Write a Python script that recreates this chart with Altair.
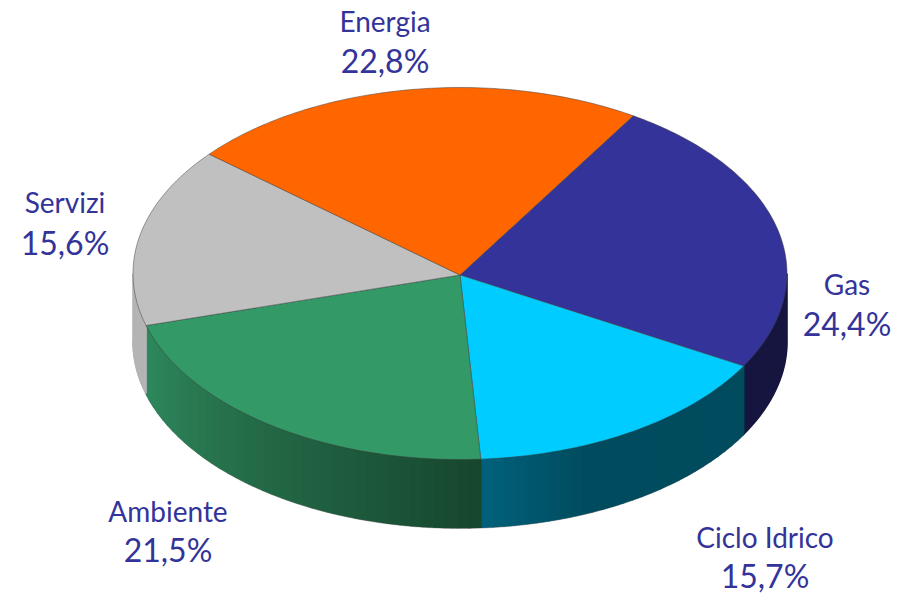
import math
import altair as alt

# --- data -------------------------------------------------------------
names = ["Gas", "Ciclo Idrico", "Ambiente", "Servizi", "Energia"]
shares = [24.4, 15.7, 21.5, 15.6, 22.8]
shares_txt = ["24,4%", "15,7%", "21,5%", "15,6%", "22,8%"]
top_colors = ["#333399", "#00CCFF", "#339966", "#C0C0C0", "#FF6600"]
wall_from = ["#15153F", "#00627C", "#2F8A5E", "#B4B4B4", "#909090"]
wall_to = ["#15153F", "#004C5E", "#17472E", "#A8A8A8", "#909090"]

# --- layout -----------------------------------------------------------
W, H = 885, 584
CX, CY, RX, RY, DEPTH = 452, 265.5, 327, 186, 68
APEX = (452, 267)
START = 32.0
label_x = [839, 757, 160, 57, 377]
label_y1 = [279, 532, 506, 197, 16]
label_y2 = [318, 570, 544, 237, 55]
LABEL_COLOR = "#333399"
FONT = "Lato"


def rim(theta, dy=0.0):
    t = math.radians(theta)
    return [CX + RX * math.sin(t), CY - RY * math.cos(t) + dy]


def feature(ring, **props):
    return {"type": "Feature", "properties": props,
            "geometry": {"type": "Polygon", "coordinates": [ring]}}


def hex_mix(a, b, f):
    ca = [int(a[i:i + 2], 16) for i in (1, 3, 5)]
    cb = [int(b[i:i + 2], 16) for i in (1, 3, 5)]
    return "#%02x%02x%02x" % tuple(round(p + (q - p) * f) for p, q in zip(ca, cb))


edges = [START]
for s in shares:
    edges.append(edges[-1] + s * 3.6)

tops, walls = [], []
for i, (a, b) in enumerate(zip(edges[:-1], edges[1:])):
    n = max(2, int(b - a))
    arc = [rim(a + (b - a) * k / n) for k in range(n + 1)]
    tops.append(feature([APEX] + arc + [APEX], c=top_colors[i]))
    lo, hi = max(a, 90), min(b, 270)
    if hi > lo:
        # flat walls need one strip, shaded walls get one strip per few degrees
        m = max(1, int((hi - lo) / 2)) if i in (1, 2) else 1
        for k in range(m):
            t0 = lo + (hi - lo) * k / m
            t1 = lo + (hi - lo) * (k + 1) / m
            if i == 1:
                col = hex_mix(wall_from[i], wall_to[i], min(1, (hi - t0) / (0.35 * (hi - lo))))
            elif i == 2:
                col = hex_mix(wall_to[i], wall_from[i], (t0 - lo) / (hi - lo))
            else:
                col = wall_from[i]
            steps = max(1, int(t1 - t0))
            upper = [rim(t0 + (t1 - t0) * j / steps) for j in range(steps + 1)]
            lower = [rim(t0 + (t1 - t0) * j / steps, DEPTH) for j in range(steps, -1, -1)]
            walls.append(feature(upper + lower + [upper[0]], c=col))

shadow = feature(
    [rim(t, DEPTH + 1) for t in range(90, 271, 2)]
    + [rim(t, DEPTH - 2) for t in range(270, 89, -2)]
    + [rim(90, DEPTH + 1)], c="#8A8A8A")

proj = alt.Projection(type="identity", scale=1, translate=[0, 0])
size = dict(width=W, height=H)

wall_layer = alt.Chart(alt.Data(values=walls)).mark_geoshape(
    strokeWidth=1.6).encode(
    fill=alt.Fill("properties.c:N", scale=None),
    stroke=alt.Stroke("properties.c:N", scale=None),
).project(**proj.to_dict()).properties(**size)

shadow_layer = alt.Chart(alt.Data(values=[shadow])).mark_geoshape(
    stroke="#8A8A8A", strokeWidth=0.5).encode(
    fill=alt.Fill("properties.c:N", scale=None),
).project(**proj.to_dict()).properties(**size)

top_layer = alt.Chart(alt.Data(values=tops)).mark_geoshape(
    stroke="#3a3a3a", strokeWidth=0.6, strokeOpacity=0.8).encode(
    fill=alt.Fill("properties.c:N", scale=None),
).project(**proj.to_dict()).properties(**size)

rows = [dict(n=n, p=p, x=x, y1=y1, y2=y2) for n, p, x, y1, y2 in
        zip(names, shares_txt, label_x, label_y1, label_y2)]
base = alt.Chart(alt.Data(values=rows))
txt = dict(font=FONT, color=LABEL_COLOR, align="center", baseline="middle")
name_layer = base.mark_text(fontSize=28, **txt).encode(
    x=alt.X("x:Q", scale=None), y=alt.Y("y1:Q", scale=None), text="n:N")
pct_layer = base.mark_text(fontSize=32, **txt).encode(
    x=alt.X("x:Q", scale=None), y=alt.Y("y2:Q", scale=None), text="p:N")

chart = alt.layer(shadow_layer, wall_layer, top_layer, name_layer, pct_layer).properties(
    padding=0, background="white"
).configure_view(stroke=None)

chart.save("out.html", embed_options={"renderer": "svg", "actions": False})
